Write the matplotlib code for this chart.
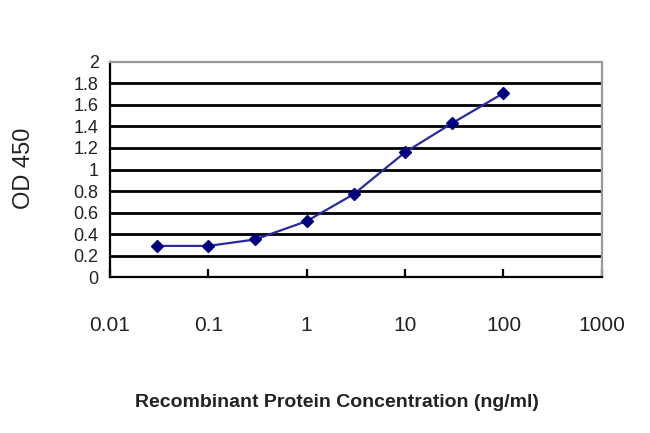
import numpy as np
import matplotlib.pyplot as plt

# ---- data ----
conc = [0.03, 0.1, 0.3, 1, 3, 10, 30, 100]
od450 = [0.29, 0.29, 0.35, 0.52, 0.77, 1.16, 1.43, 1.71]
x_ticks = [0.01, 0.1, 1, 10, 100, 1000]
x_tick_labels = ['0.01', '0.1', '1', '10', '100', '1000']
y_ticks = [0, 0.2, 0.4, 0.6, 0.8, 1, 1.2, 1.4, 1.6, 1.8, 2]
y_tick_labels = ['0', '0.2', '0.4', '0.6', '0.8', '1', '1.2', '1.4', '1.6', '1.8', '2']

plt.rcParams['font.family'] = ['Liberation Sans', 'DejaVu Sans']

fig = plt.figure(figsize=(6.5, 4.33), dpi=100)
ax = fig.add_axes([0.169, 0.360, 0.757, 0.497])

ax.set_xscale('log')
ax.set_xlim(0.01, 1000)
ax.set_ylim(0, 2)

# horizontal gridlines, heavy black
for y in y_ticks[1:-1]:
    ax.axhline(y, color='black', lw=2, zorder=1)

ax.plot(conc, od450, color='#2a2aa0', lw=1.6, marker='D', ms=6,
        markerfacecolor='#00007f', markeredgecolor='#00007f', zorder=3)

for side in ('left', 'bottom'):
    ax.spines[side].set_color('black')
    ax.spines[side].set_linewidth(1.6)
for side in ('top', 'right'):
    ax.spines[side].set_color('#9a9a9a')
    ax.spines[side].set_linewidth(1.6)

ax.set_xticks(x_ticks)
ax.set_xticklabels(x_tick_labels, fontsize=15, color='#222222')
ax.xaxis.set_minor_locator(plt.NullLocator())
ax.tick_params(axis='x', direction='in', length=6, width=1.6, pad=28)

ax.set_yticks(y_ticks)
ax.set_yticklabels(y_tick_labels, fontsize=13, color='#222222')
ax.tick_params(axis='y', length=0, pad=8)

ax.set_ylabel('OD 450', fontsize=17, color='#222222', va='center')
ax.yaxis.set_label_coords(-0.175, 0.505)
ax.set_xlabel('Recombinant Protein Concentration (ng/ml)', fontsize=14,
              fontweight='bold', color='#222222', va='center')
ax.xaxis.set_label_coords(0.461, -0.583)

fig.savefig('out.png', dpi=100)
